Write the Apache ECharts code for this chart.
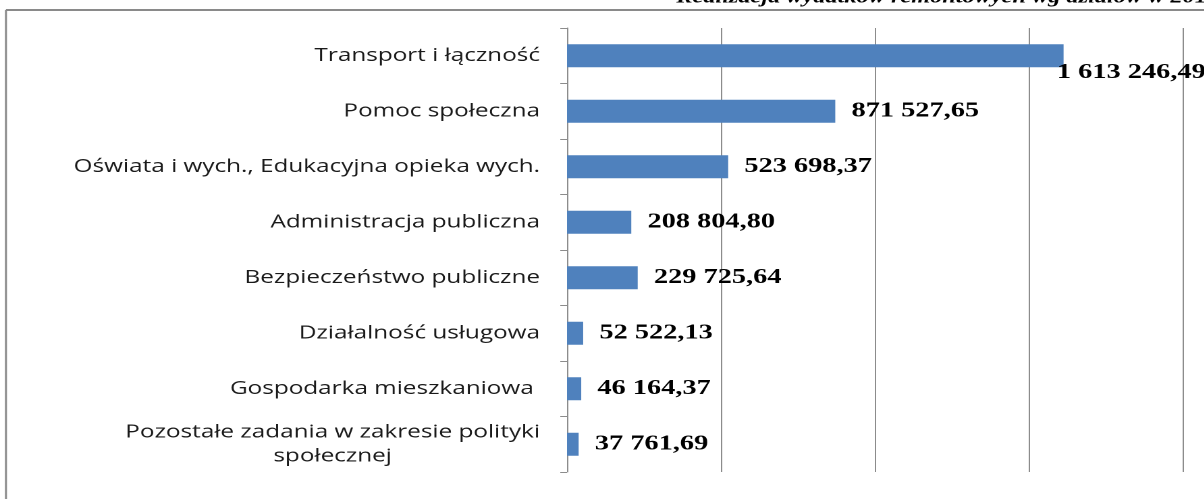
<!DOCTYPE html>
<html lang="pl">
<head>
    <meta charset="UTF-8">
    <title>Realizacja wydatków remontowych</title>
    <style>
        html,body{
            margin: 0;
            height: 100%;
            overflow: hidden;
            background: #fff;
        }
        /* oryginał jest rozciągnięty w poziomie, więc rysujemy węższy wykres i skalujemy */
        #chart{
            width: 892px;
            height: 499px;
            transform: scaleX(1.35);
            transform-origin: 0 0;
        }
    </style>
    <script src="https://cdn.jsdelivr.net/npm/echarts@6/dist/echarts.min.js"></script>
</head>
<body>
<div id="chart"></div>
<script>
    var categories = [
        'Transport i łączność',
        'Pomoc społeczna',
        'Oświata i wych., Edukacyjna opieka wych.',
        'Administracja publiczna',
        'Bezpieczeństwo publiczne',
        'Działalność usługowa',
        'Gospodarka mieszkaniowa ',
        'Pozostałe zadania w zakresie polityki\nspołecznej'
    ];
    var values = [1613246.49, 871527.65, 523698.37, 208804.80, 229725.64, 52522.13, 46164.37, 37761.69];
    var title = 'Realizacja wydatków remontowych wg działów w 2015 r.';

    // liczby w stylu polskim: 1 613 246,49
    function fmt(v) {
        var parts = v.toFixed(2).split('.');
        var intPart = parts[0].replace(/\B(?=(\d{3})+(?!\d))/g, ' ');
        return intPart + ',' + parts[1];
    }

    var data = values.map(function (v, i) {
        var item = {value: v};
        if (i === 0) {
            // etykieta pierwszego słupka zsunięta w dół
            item.label = {offset: [-17, 17]};
        }
        return item;
    });

    var chart = echarts.init(document.getElementById('chart'), null, {devicePixelRatio: 2});
    var option = {
        animation: false,
        graphic: [
            {
                type: 'line',
                shape: {x1: 4.4, y1: 10, x2: 900, y2: 10},
                style: {stroke: '#8a8a8a', lineWidth: 2},
                silent: true
            },
            {
                type: 'line',
                shape: {x1: 4.4, y1: 10, x2: 4.4, y2: 520},
                style: {stroke: '#8a8a8a', lineWidth: 1.5},
                silent: true
            },
            {
                type: 'text',
                x: 501,
                y: -2,
                style: {
                    text: title,
                    font: 'italic bold 18px "Liberation Serif"',
                    fill: '#000',
                    verticalAlign: 'middle'
                },
                silent: true
            }
        ],
        grid: {
            left: 420,
            top: 28,
            width: 456,
            height: 444
        },
        xAxis: {
            type: 'value',
            min: 0,
            max: 2000000,
            interval: 500000,
            axisLabel: {show: false},
            axisLine: {show: false},
            axisTick: {show: false},
            splitLine: {lineStyle: {color: '#8c8c8c', width: 1}}
        },
        yAxis: {
            type: 'category',
            inverse: true,
            data: categories,
            axisLine: {lineStyle: {color: '#8c8c8c', width: 1}},
            axisTick: {show: true, length: 5, lineStyle: {color: '#8c8c8c'}},
            axisLabel: {
                margin: 20,
                color: '#1a1a1a',
                fontFamily: 'Open Sans',
                fontSize: 18,
                lineHeight: 24,
                align: 'right',
                formatter: function (v) {
                    if (v.indexOf('\n') < 0) {
                        return v;
                    }
                    return v.split('\n').map(function (s) {
                        return '{c|' + s + '}';
                    }).join('\n');
                },
                rich: {
                    c: {
                        align: 'center',
                        fontFamily: 'Open Sans',
                        fontSize: 18,
                        lineHeight: 24,
                        color: '#1a1a1a'
                    }
                }
            }
        },
        series: [
            {
                type: 'bar',
                data: data,
                barWidth: 23,
                itemStyle: {color: '#4f81bd'},
                label: {
                    show: true,
                    position: 'right',
                    distance: 12,
                    color: '#000',
                    fontFamily: 'Liberation Serif',
                    fontWeight: 'bold',
                    fontSize: 21,
                    formatter: function (p) {
                        return fmt(p.value);
                    }
                }
            }
        ]
    };
    chart.setOption(option);
</script>
</body>
</html>
